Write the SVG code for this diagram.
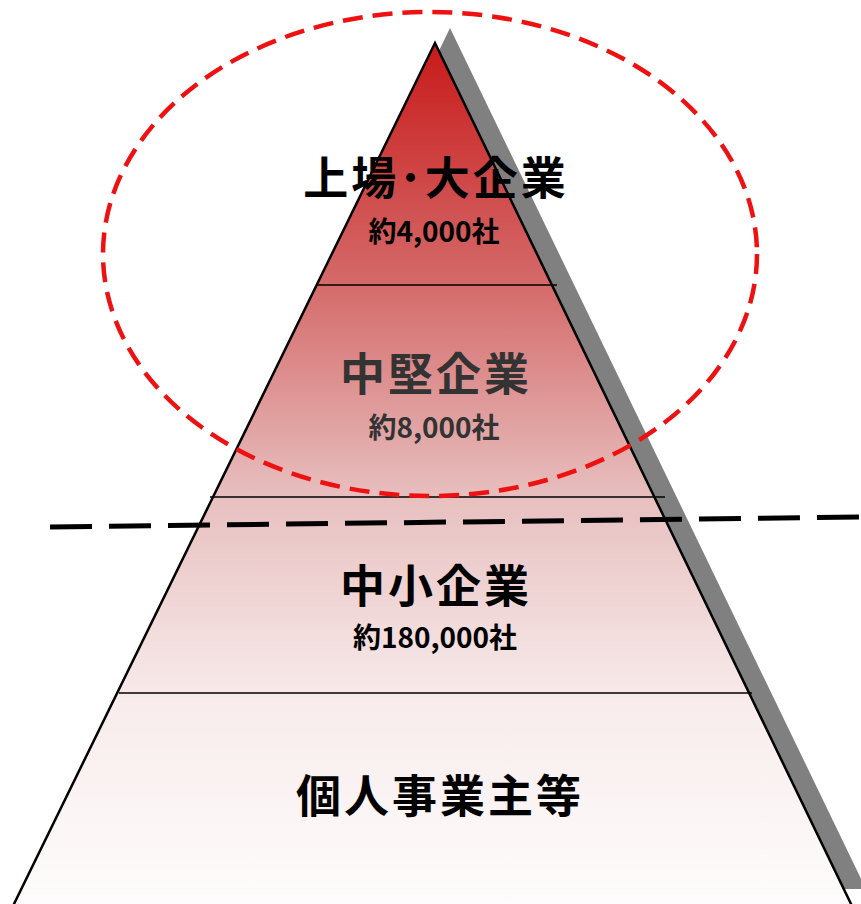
<svg xmlns="http://www.w3.org/2000/svg" width="861" height="904" viewBox="0 0 861 904">
  <defs>
    <linearGradient id="pyr" x1="0" y1="43" x2="0" y2="904" gradientUnits="userSpaceOnUse">
      <stop offset="0" stop-color="#c81a1a"/>
      <stop offset="0.28" stop-color="#d56a6a"/>
      <stop offset="0.53" stop-color="#e8c0c0"/>
      <stop offset="0.77" stop-color="#f8ecec"/>
      <stop offset="1" stop-color="#fefcfc"/>
    </linearGradient>
    <style>
      .main { font-family: "Noto Sans CJK JP", "Noto Sans", sans-serif; font-weight: bold; font-size: 45px; letter-spacing: 3px; text-anchor: middle; }
      .sub { font-family: "Noto Sans CJK JP", "Noto Sans", sans-serif; font-weight: bold; font-size: 28px; text-anchor: middle; }
      .div { stroke: #000; stroke-width: 1.5; fill: none; }
    </style>
  </defs>
  <rect width="861" height="904" fill="#fff"/>
  <g id="shadow">
    <polygon points="450,28 866,889 34,889" fill="#808080"/>
  </g>
  <g id="pyramid">
    <polygon points="435,43 852,906 13,906" fill="url(#pyr)" stroke="#000" stroke-width="2.5" stroke-linejoin="miter"/>
  </g>
  <g id="dividers">
    <line class="div" x1="317" y1="285" x2="557" y2="285"/>
    <line class="div" x1="210" y1="497" x2="665" y2="497"/>
    <line class="div" x1="119" y1="693" x2="752" y2="693"/>
  </g>
  <g id="tier1">
    <text class="main" x="436" y="195" fill="#000">上場･大企業</text>
    <text class="sub" x="434" y="242" fill="#000">約4,000社</text>
  </g>
  <g id="tier2">
    <text class="main" x="436" y="391" fill="#333">中堅企業</text>
    <text class="sub" x="434" y="438" fill="#333">約8,000社</text>
  </g>
  <g id="tier3">
    <text class="main" x="436" y="603" fill="#000">中小企業</text>
    <text class="sub" x="435" y="648" fill="#000">約180,000社</text>
  </g>
  <g id="tier4">
    <text class="main" x="440" y="813" fill="#000">個人事業主等</text>
  </g>
  <g id="connectors">
    <ellipse cx="430" cy="254" rx="327" ry="242" fill="none" stroke="#ee1111" stroke-width="4.5" stroke-dasharray="20 10"/>
    <line x1="50" y1="527" x2="861" y2="517" stroke="#000" stroke-width="5" stroke-dasharray="42 17"/>
  </g>
</svg>
